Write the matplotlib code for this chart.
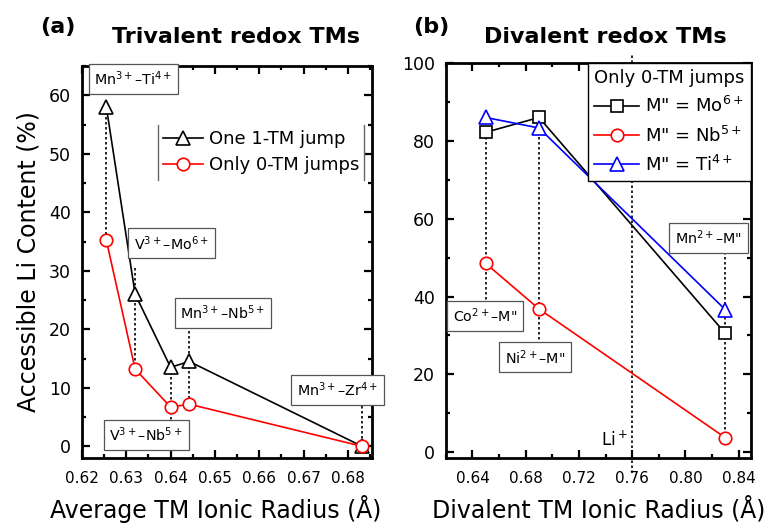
import numpy as np
import matplotlib.pyplot as plt
from matplotlib.ticker import MultipleLocator, FormatStrFormatter

plt.rcParams['font.family'] = ['DejaVu Sans']
plt.rcParams['mathtext.default'] = 'regular'

# ---------------- panel (a): trivalent redox TMs ----------------
rad_a = [0.6255, 0.6320, 0.6400, 0.6442, 0.6832]
one_jump = [58.0, 26.0, 13.5, 14.5, 0.0]
zero_jump = [35.2, 13.2, 6.7, 7.2, 0.0]
names_a = [r'Mn$^{3+}$–Ti$^{4+}$', r'V$^{3+}$–Mo$^{6+}$', r'V$^{3+}$–Nb$^{5+}$',
           r'Mn$^{3+}$–Nb$^{5+}$', r'Mn$^{3+}$–Zr$^{4+}$']
name_xy_a = [(0.6316, 62.8), (0.6402, 34.7), (0.6345, 2.0), (0.6518, 22.8), (0.6777, 9.7)]
drop_a = [(58.0, 35.2), (30.5, 13.2), (13.5, 4.3), (20.5, 7.2), (7.7, 0.0)]

# ---------------- panel (b): divalent redox TMs ----------------
rad_b = [0.650, 0.690, 0.830]
mo6 = [82.2, 86.0, 30.5]
nb5 = [48.5, 36.8, 3.7]
ti4 = [86.0, 83.3, 36.6]
names_b = [r'Co$^{2+}$–M"', r'Ni$^{2+}$–M"', r'Mn$^{2+}$–M"']
name_xy_b = [(0.6493, 35.0), (0.6868, 24.4), (0.8173, 55.0)]
drop_b = [(82.2, 38.5), (86.0, 28.0), (51.5, 3.7)]
li_radius = 0.76

fig = plt.figure(figsize=(7.66, 5.25), dpi=100)
ax1 = fig.add_axes([0.107, 0.1276, 0.379, 0.7467])
ax2 = fig.add_axes([0.582, 0.1276, 0.398, 0.7524])

box = dict(boxstyle='square,pad=0.4', fc='white', ec='#555555', lw=0.9)
mk = dict(mfc='white', mew=1.2, lw=1.2)


def style(ax):
    for s in ax.spines.values():
        s.set_linewidth(2.0)
    ax.tick_params(which='both', direction='in', top=True, right=True, width=1.6)
    ax.tick_params(which='major', length=6)
    ax.tick_params(which='minor', length=3)
    ax.tick_params(axis='x', labelsize=11, pad=9)
    ax.tick_params(axis='y', labelsize=12.5, pad=8)


# panel (a)
for x, (y0, y1) in zip(rad_a, drop_a):
    ax1.plot([x, x], [y0, y1], ls=(0, (1.5, 1.5)), color='black', lw=1.2, zorder=1)
l1, = ax1.plot(rad_a, one_jump, '-^', color='black', ms=9.5, zorder=3, **mk)
l2, = ax1.plot(rad_a, zero_jump, '-o', color='red', ms=9, zorder=3, **mk)
for t, (x, y) in zip(names_a, name_xy_a):
    ax1.text(x, y, t, fontsize=10.3, ha='center', va='center', bbox=box, zorder=4,
             clip_on=False)
ax1.set_xlim(0.62, 0.6855)
ax1.set_ylim(-2, 65)
ax1.xaxis.set_major_locator(MultipleLocator(0.01))
ax1.xaxis.set_minor_locator(MultipleLocator(0.005))
ax1.xaxis.set_major_formatter(FormatStrFormatter('%.2f'))
ax1.yaxis.set_major_locator(MultipleLocator(10))
ax1.yaxis.set_minor_locator(MultipleLocator(5))
style(ax1)
ax1.set_xlabel('Average TM Ionic Radius (Å)', fontsize=17)
ax1.xaxis.set_label_coords(0.462, -0.095)
ax1.set_ylabel('Accessible Li Content (%)', fontsize=17, labelpad=6)
leg1 = ax1.legend([l1, l2], ['One 1-TM jump', 'Only 0-TM jumps'], loc='upper left',
                  bbox_to_anchor=(0.262, 0.85), frameon=False, fontsize=13,
                  borderaxespad=0, borderpad=0.3, handlelength=2.2, handletextpad=0.3,
                  labelspacing=0.45)

# panel (b)
for x, (y0, y1) in zip(rad_b, drop_b):
    ax2.plot([x, x], [y0, y1], ls=(0, (1.5, 1.5)), color='black', lw=1.2, zorder=1)
ax2.axvline(li_radius, ymin=-0.038, ymax=1.025, ls=(0, (1.5, 1.5)), color='black',
            lw=1.2, zorder=1, clip_on=False)
m1, = ax2.plot(rad_b, mo6, '-s', color='black', ms=8, zorder=3, **mk)
m2, = ax2.plot(rad_b, nb5, '-o', color='red', ms=9, zorder=3, **mk)
m3, = ax2.plot(rad_b, ti4, '-^', color='blue', ms=9.5, zorder=3, **mk)
for t, (x, y) in zip(names_b, name_xy_b):
    ax2.text(x, y, t, fontsize=10.3, ha='center', va='center', bbox=box, zorder=4)
ax2.text(li_radius - 0.013, 3.1, r'Li$^+$', fontsize=12, ha='center', va='center')
ax2.set_xlim(0.62, 0.849)
ax2.set_ylim(-1.5, 100)
ax2.xaxis.set_major_locator(MultipleLocator(0.04))
ax2.xaxis.set_minor_locator(MultipleLocator(0.02))
ax2.xaxis.set_major_formatter(FormatStrFormatter('%.2f'))
ax2.yaxis.set_major_locator(MultipleLocator(20))
ax2.yaxis.set_minor_locator(MultipleLocator(10))
style(ax2)
ax2.set_xlabel('Divalent TM Ionic Radius (Å)', fontsize=17)
ax2.xaxis.set_label_coords(0.5, -0.097)
leg2 = ax2.legend([m1, m2, m3], [r'M" = Mo$^{6+}$', r'M" = Nb$^{5+}$', r'M" = Ti$^{4+}$'],
                  title='Only 0-TM jumps', title_fontsize=13, fontsize=13,
                  loc='upper right', bbox_to_anchor=(1, 1), borderaxespad=0,
                  fancybox=False, framealpha=1, edgecolor='black', alignment='left',
                  handlelength=2.5, handletextpad=0.3, labelspacing=0.5, borderpad=0.35)
leg2.get_frame().set_linewidth(1.0)

# panel headings
fig.text(0.052, 0.949, '(a)', fontsize=16, fontweight='bold', va='center')
fig.text(0.308, 0.93, 'Trivalent redox TMs', fontsize=16, fontweight='bold',
         ha='center', va='center')
fig.text(0.539, 0.949, '(b)', fontsize=16, fontweight='bold', va='center')
fig.text(0.79, 0.93, 'Divalent redox TMs', fontsize=16, fontweight='bold',
         ha='center', va='center')

# side bars of legend (a)
fig.canvas.draw()
bb = leg1.get_window_extent().transformed(ax1.transAxes.inverted())
for xb in (bb.x0, bb.x1):
    ax1.plot([xb, xb], [bb.y0, bb.y1], transform=ax1.transAxes, color='#666666', lw=1.0)

fig.savefig('out.png', dpi=100)
